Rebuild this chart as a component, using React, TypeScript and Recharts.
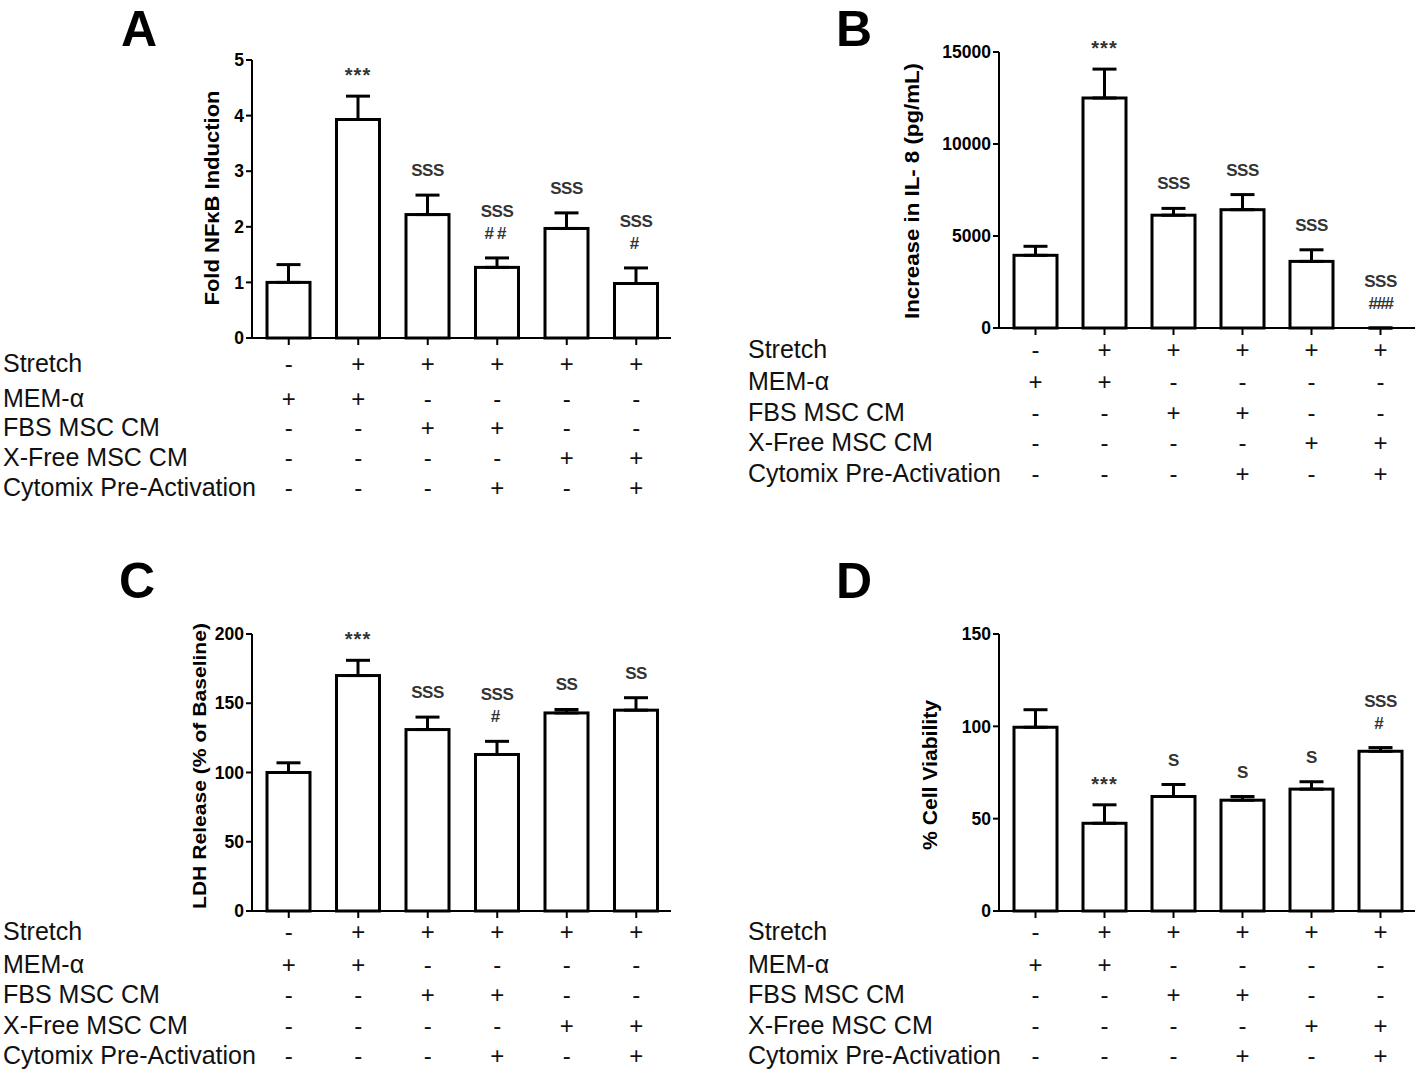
import React from 'react';
import { BarChart, Bar, XAxis, YAxis, ErrorBar } from 'recharts';

// ---- data ----
const categories = ['Control', 'Stretch', 'FBS CM', 'FBS CM + Cytomix', 'X-Free CM', 'X-Free CM + Cytomix'];

const tableLabels = ['Stretch', 'MEM-\u03b1', 'FBS MSC CM', 'X-Free MSC CM', 'Cytomix Pre-Activation'];
const rowStretch = ['-', '+', '+', '+', '+', '+'];
const rowMem = ['+', '+', '-', '-', '-', '-'];
const rowFbs = ['-', '-', '+', '+', '-', '-'];
const rowXfree = ['-', '-', '-', '-', '+', '+'];
const rowCytomix = ['-', '-', '-', '+', '-', '+'];
const tableRows = [rowStretch, rowMem, rowFbs, rowXfree, rowCytomix];

// Panel A: Fold NF-kB induction
const nfkbMean = [1.0, 3.93, 2.22, 1.27, 1.97, 0.98];
const nfkbErrTop = [1.32, 4.35, 2.57, 1.44, 2.25, 1.26];
const nfkbSig = [[], ['***'], ['SSS'], ['SSS', '##'], ['SSS'], ['SSS', '#']];
const nfkbTicks = [0, 1, 2, 3, 4, 5];

// Panel B: IL-8
const il8Mean = [3950, 12500, 6130, 6430, 3620, 0];
const il8ErrTop = [4440, 14070, 6500, 7250, 4250, 0];
const il8Sig = [[], ['***'], ['SSS'], ['SSS'], ['SSS'], ['SSS', '###']];
const il8Ticks = [0, 5000, 10000, 15000];

// Panel C: LDH release
const ldhMean = [100, 170, 131, 113, 143, 145];
const ldhErrTop = [107, 181, 140, 122.5, 145.5, 154];
const ldhSig = [[], ['***'], ['SSS'], ['SSS', '#'], ['SS'], ['SS']];
const ldhTicks = [0, 50, 100, 150, 200];

// Panel D: Cell viability
const viaMean = [99.5, 47.5, 62, 60, 66, 86.5];
const viaErrTop = [109, 57.5, 68.5, 62, 70, 88.5];
const viaSig = [[], ['***'], ['S'], ['S'], ['S'], ['SSS', '#']];
const viaTicks = [0, 50, 100, 150];

const FONT = '"Liberation Sans", Arial, Helvetica, sans-serif';

function buildData(mean: number[], top: number[]) {
  return categories.map((c, i) => ({
    cat: c,
    mean: mean[i],
    top: top[i],
    err: [0, Math.max(0, top[i] - mean[i])],
  }));
}

function makeShape(sig: string[][]) {
  return (props: any) => {
    const { x, y, width, height, index, payload } = props;
    const mean = payload.mean;
    const top = payload.top;
    const pxPer = mean > 0 && height > 0 ? height / mean : 0;
    const errY = y - (top - mean) * pxPer;
    const lines = sig[index] || [];
    const cx = x + width / 2;
    return (
      <g>
        {height > 0 && (
          <rect x={x} y={y} width={width} height={height} fill="#fff" stroke="#000" strokeWidth={3} />
        )}
        {lines.map((t, i) => {
          const c = errY - 25 - (lines.length - 1 - i) * 22;
          const isStar = t.indexOf('*') >= 0;
          const isHash = t.indexOf('#') >= 0;
          const fs = isStar ? 20 : 17;
          const base = isStar ? c + 11 : c + 6;
          return (
            <text
              key={i}
              x={cx}
              y={base}
              textAnchor="middle"
              fontFamily={FONT}
              fontWeight="bold"
              fontSize={fs}
              fill="#333"
              letterSpacing={isStar ? 1 : isHash ? (t.length > 2 ? -1.5 : 3) : -0.5}
            >
              {t}
            </text>
          );
        })}
      </g>
    );
  };
}

function makeTick(axisY: number, offsets: number[], labelX: number) {
  return (props: any) => {
    const { x, index } = props;
    return (
      <g>
        {tableRows.map((row, r) => (
          <text
            key={r}
            x={x}
            y={axisY + offsets[r]}
            textAnchor="middle"
            dominantBaseline="central"
            fontFamily={FONT}
            fontSize={24}
            fill="#111"
          >
            {row[index]}
          </text>
        ))}
        {index === 0 &&
          tableLabels.map((lab, r) => (
            <text
              key={'l' + r}
              x={labelX}
              y={axisY + offsets[r]}
              textAnchor="start"
              dominantBaseline="central"
              fontFamily={FONT}
              fontSize={25}
              fill="#111"
            >
              {lab}
            </text>
          ))}
      </g>
    );
  };
}

type PanelProps = {
  left: number;
  top: number;
  width: number;
  height: number;
  margin: { top: number; right: number; bottom: number; left: number };
  mean: number[];
  errTop: number[];
  sig: string[][];
  ticks: number[];
  rowOffsets: number[];
  labelX: number;
};

function Panel(p: PanelProps) {
  const data = buildData(p.mean, p.errTop);
  const axisY = p.height - p.margin.bottom - 150;
  const domainMax = p.ticks[p.ticks.length - 1];
  return (
    <div style={{ position: 'absolute', left: p.left, top: p.top, width: p.width, height: p.height }}>
      <BarChart width={p.width} height={p.height} data={data} margin={p.margin} barCategoryGap={0}>
        <XAxis
          dataKey="cat"
          height={150}
          axisLine={{ stroke: '#000', strokeWidth: 2 }}
          tickLine={{ stroke: '#000', strokeWidth: 2 }}
          tickSize={7}
          interval={0}
          padding={{ left: 2, right: 0 }}
          tick={makeTick(axisY, p.rowOffsets, p.labelX)}
        />
        <YAxis
          width={60}
          domain={[0, domainMax]}
          ticks={p.ticks}
          interval={0}
          axisLine={{ stroke: '#000', strokeWidth: 2 }}
          tickLine={{ stroke: '#000', strokeWidth: 2 }}
          tickSize={6}
          tickMargin={2}
          tick={{ fontFamily: FONT, fontWeight: 'bold', fontSize: 17.5, fill: '#000' }}
        />
        <Bar dataKey="mean" barSize={43} fill="#fff" stroke="#000" strokeWidth={3} isAnimationActive={false} shape={makeShape(p.sig)}>
          <ErrorBar dataKey="err" width={12} strokeWidth={3} stroke="#000" direction="y" isAnimationActive={false} />
        </Bar>
      </BarChart>
    </div>
  );
}

function Title(props: { cx: number; cy: number; len: number; text: string; size?: number }) {
  const { cx, cy, len, text, size } = props;
  return (
    <text
      transform={`rotate(-90 ${cx} ${cy})`}
      x={cx}
      y={cy}
      textAnchor="middle"
      dominantBaseline="central"
      fontFamily={FONT}
      fontWeight="bold"
      fontSize={size || 20}
      fill="#000"
      textLength={len}
      lengthAdjust="spacingAndGlyphs"
    >
      {text}
    </text>
  );
}

export default function App() {
  const letterStyle = { fontFamily: FONT, fontWeight: 'bold' as const, fontSize: 50, fill: '#000' };
  return (
    <div style={{ position: 'absolute', left: 0, top: 0, width: 1418, height: 1073, background: '#fff' }}>
      <Panel
        left={0}
        top={0}
        width={709}
        height={536}
        margin={{ top: 60, right: 38, bottom: 48, left: 192 }}
        mean={nfkbMean}
        errTop={nfkbErrTop}
        sig={nfkbSig}
        ticks={nfkbTicks}
        rowOffsets={[25, 60, 89, 119, 149]}
        labelX={3}
      />
      <Panel
        left={709}
        top={0}
        width={709}
        height={536}
        margin={{ top: 52, right: 3, bottom: 58, left: 230 }}
        mean={il8Mean}
        errTop={il8ErrTop}
        sig={il8Sig}
        ticks={il8Ticks}
        rowOffsets={[21, 53, 84, 114, 145]}
        labelX={39}
      />
      <Panel
        left={0}
        top={536}
        width={709}
        height={537}
        margin={{ top: 98, right: 38, bottom: 12, left: 192 }}
        mean={ldhMean}
        errTop={ldhErrTop}
        sig={ldhSig}
        ticks={ldhTicks}
        rowOffsets={[20, 53, 83, 114, 144]}
        labelX={3}
      />
      <Panel
        left={709}
        top={536}
        width={709}
        height={537}
        margin={{ top: 98, right: 3, bottom: 12, left: 230 }}
        mean={viaMean}
        errTop={viaErrTop}
        sig={viaSig}
        ticks={viaTicks}
        rowOffsets={[20, 53, 83, 114, 144]}
        labelX={39}
      />
      <svg
        width={1418}
        height={1073}
        style={{ position: 'absolute', left: 0, top: 0, pointerEvents: 'none' }}
      >
        <text x={121} y={46} {...letterStyle}>A</text>
        <text x={836} y={46} {...letterStyle}>B</text>
        <text x={119} y={598} {...letterStyle}>C</text>
        <text x={836} y={598} {...letterStyle}>D</text>
        <Title cx={212} cy={198} len={215} text={'Fold NF\u03baB Induction'} />
        <Title cx={912} cy={191} len={256} text="Increase in IL- 8 (pg/mL)" />
        <Title cx={199} cy={766} len={286} text="LDH Release (%  of Baseline)" size={19} />
        <Title cx={930} cy={775} len={150} text="% Cell Viability" />
      </svg>
    </div>
  );
}
